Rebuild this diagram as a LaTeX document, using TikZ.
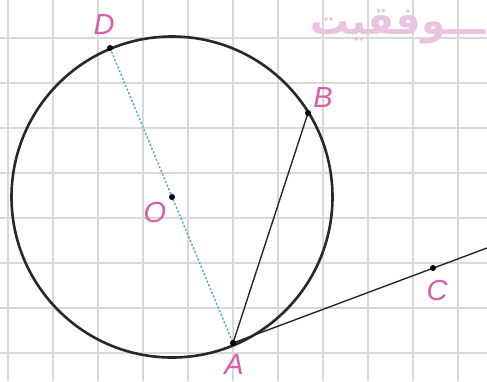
\documentclass[tikz,border=0pt]{standalone}
\usepackage{fontspec}
\setmainfont{Liberation Sans}
\newfontfamily\arabicfont[Script=Arabic]{DejaVu Sans}
\TeXXeTstate=1
\definecolor{gridc}{RGB}{216,216,216}
\definecolor{labc}{RGB}{218,92,172}
\definecolor{wmc}{RGB}{232,196,224}
\definecolor{diamc}{RGB}{80,175,190}
\definecolor{linec}{RGB}{40,40,40}
\begin{document}
\begin{tikzpicture}[x=1pt,y=-1pt,
  gridline/.style={gridc,line width=1.5pt},
  ptlab/.style={text=labc,font=\fontsize{29}{29}\selectfont\itshape,inner sep=0pt},
  ptdot/.style={circle,fill=black,inner sep=0pt,minimum size=6pt},
  chord/.style={linec,line width=1.4pt},
  circ/.style={linec,line width=2.6pt}]
\useasboundingbox[fill=white] (0,0) rectangle (487,381);
% grid
\foreach \x in {8,53,...,458} \draw[gridline] (\x,0) -- (\x,381);
\foreach \y in {38,83,...,353} \draw[gridline] (0,\y) -- (487,\y);
% watermark
\node[text=wmc,font=\arabicfont\bfseries\fontsize{39}{39}\selectfont,inner sep=0pt,anchor=east] (wm) at (486,27) {\beginR ـــوفقيت\endR};
% points
\coordinate (O) at (172,197);
\coordinate (D) at (110,48);
\coordinate (A) at (233,343);
\coordinate (B) at (308,113);
\coordinate (C) at (433,268);
\coordinate (E) at (487,248);
% circle
\draw[circ] (O) circle[radius=160.5];
% diameter
\draw[diamc,line width=1.4pt,dash pattern=on 2.2pt off 1.8pt] (D) -- (A);
% chord and tangent
\draw[chord] (A) -- (B);
\draw[chord] (A) -- (E);
% dots
\foreach \p in {O,D,A,B,C} \node[ptdot] (d\p) at (\p) {};
% labels
\node[ptlab] (lD) at (104,25) {D};
\node[ptlab] (lB) at (323,98) {B};
\node[ptlab] (lO) at (155,213) {O};
\node[ptlab] (lA) at (234,365) {A};
\node[ptlab] (lC) at (437,291) {C};
\end{tikzpicture}
\end{document}
